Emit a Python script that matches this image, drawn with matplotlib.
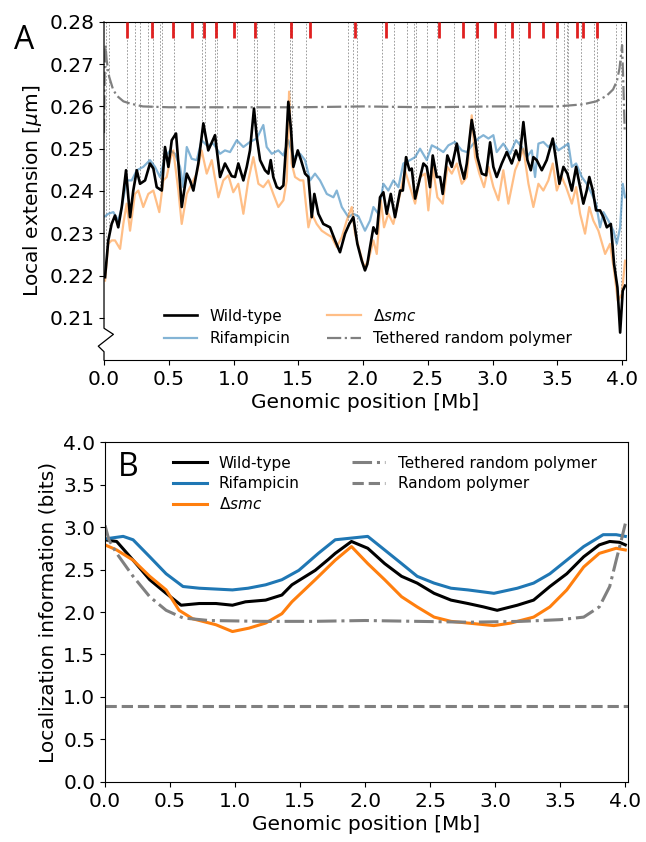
import numpy as np
import matplotlib
matplotlib.use("Agg")
import matplotlib.pyplot as plt

# ---- panel A: local extension (um) along the genome (Mb) ----
wt_x = [0.008, 0.033, 0.059, 0.085, 0.110, 0.137, 0.170, 0.201, 0.226, 0.253,
        0.278, 0.317, 0.355, 0.381, 0.407, 0.446, 0.471, 0.497, 0.523, 0.556,
        0.587, 0.600, 0.639, 0.664, 0.690, 0.728, 0.767, 0.805, 0.857, 0.896,
        0.934, 0.986, 1.012, 1.037, 1.076, 1.102, 1.127, 1.158, 1.179, 1.205,
        1.243, 1.269, 1.287, 1.307, 1.334, 1.359, 1.385, 1.405, 1.423, 1.444,
        1.462, 1.496, 1.521, 1.552, 1.578, 1.604, 1.624, 1.655, 1.693, 1.745,
        1.784, 1.822, 1.861, 1.894, 1.925, 1.956, 1.990, 2.015, 2.033, 2.054,
        2.080, 2.106, 2.131, 2.157, 2.183, 2.214, 2.247, 2.286, 2.307, 2.332,
        2.358, 2.376, 2.402, 2.435, 2.466, 2.492, 2.517, 2.538, 2.569, 2.595,
        2.615, 2.651, 2.685, 2.724, 2.749, 2.780, 2.801, 2.839, 2.865, 2.883,
        2.917, 2.950, 2.981, 3.006, 3.032, 3.071, 3.110, 3.148, 3.181, 3.207,
        3.238, 3.269, 3.295, 3.315, 3.341, 3.380, 3.418, 3.465, 3.490, 3.516,
        3.547, 3.578, 3.612, 3.645, 3.676, 3.701, 3.727, 3.747, 3.774, 3.799,
        3.830, 3.856, 3.882, 3.913, 3.938, 3.964, 3.985, 4.005, 4.023]
wt_y = [0.2196, 0.2283, 0.2322, 0.2342, 0.2314, 0.2362, 0.2449, 0.2338, 0.2401, 0.2449,
        0.2417, 0.2425, 0.2465, 0.2453, 0.2409, 0.2401, 0.2504, 0.2457, 0.2520, 0.2536,
        0.2417, 0.2362, 0.2441, 0.2425, 0.2401, 0.2465, 0.2560, 0.2496, 0.2532, 0.2433,
        0.2465, 0.2435, 0.2433, 0.2465, 0.2425, 0.2457, 0.2496, 0.2595, 0.2528, 0.2473,
        0.2449, 0.2441, 0.2473, 0.2433, 0.2409, 0.2405, 0.2413, 0.2504, 0.2611, 0.2544,
        0.2457, 0.2496, 0.2473, 0.2441, 0.2433, 0.2338, 0.2393, 0.2346, 0.2322, 0.2314,
        0.2283, 0.2255, 0.2299, 0.2322, 0.2338, 0.2275, 0.2235, 0.2212, 0.2227, 0.2267,
        0.2314, 0.2299, 0.2385, 0.2397, 0.2346, 0.2393, 0.2338, 0.2401, 0.2401, 0.2480,
        0.2449, 0.2453, 0.2382, 0.2425, 0.2465, 0.2457, 0.2409, 0.2484, 0.2433, 0.2433,
        0.2393, 0.2484, 0.2457, 0.2512, 0.2465, 0.2429, 0.2465, 0.2568, 0.2524, 0.2480,
        0.2441, 0.2437, 0.2515, 0.2457, 0.2433, 0.2465, 0.2492, 0.2465, 0.2496, 0.2473,
        0.2563, 0.2473, 0.2449, 0.2480, 0.2473, 0.2449, 0.2473, 0.2524, 0.2473, 0.2417,
        0.2457, 0.2441, 0.2401, 0.2457, 0.2409, 0.2370, 0.2401, 0.2433, 0.2401, 0.2354,
        0.2354, 0.2338, 0.2314, 0.2322, 0.2227, 0.2172, 0.2065, 0.2164, 0.2176]

rif_x = [0.008, 0.033, 0.072, 0.110, 0.137, 0.175, 0.214, 0.253, 0.303, 0.355,
         0.394, 0.432, 0.471, 0.510, 0.548, 0.587, 0.612, 0.639, 0.677, 0.716,
         0.754, 0.793, 0.844, 0.896, 0.934, 0.973, 1.025, 1.076, 1.127, 1.179,
         1.230, 1.256, 1.295, 1.346, 1.385, 1.423, 1.462, 1.514, 1.552, 1.591,
         1.629, 1.668, 1.720, 1.771, 1.797, 1.836, 1.887, 1.925, 1.964, 2.015,
         2.054, 2.080, 2.118, 2.157, 2.195, 2.234, 2.273, 2.311, 2.363, 2.402,
         2.440, 2.492, 2.531, 2.581, 2.620, 2.659, 2.710, 2.762, 2.801, 2.852,
         2.890, 2.929, 2.968, 3.006, 3.032, 3.083, 3.135, 3.181, 3.226, 3.264,
         3.303, 3.328, 3.354, 3.392, 3.431, 3.470, 3.508, 3.547, 3.585, 3.612,
         3.645, 3.689, 3.727, 3.766, 3.799, 3.830, 3.856, 3.894, 3.933, 3.959,
         3.985, 4.005, 4.023]
rif_y = [0.2340, 0.2346, 0.2350, 0.2330, 0.2362, 0.2425, 0.2425, 0.2449, 0.2457, 0.2473,
         0.2457, 0.2433, 0.2480, 0.2496, 0.2488, 0.2457, 0.2409, 0.2504, 0.2476, 0.2473,
         0.2520, 0.2508, 0.2512, 0.2488, 0.2496, 0.2492, 0.2520, 0.2504, 0.2516, 0.2524,
         0.2556, 0.2504, 0.2488, 0.2496, 0.2484, 0.2520, 0.2480, 0.2488, 0.2473, 0.2425,
         0.2441, 0.2425, 0.2393, 0.2385, 0.2401, 0.2362, 0.2338, 0.2346, 0.2340, 0.2306,
         0.2330, 0.2362, 0.2346, 0.2417, 0.2401, 0.2425, 0.2409, 0.2465, 0.2473, 0.2480,
         0.2500, 0.2473, 0.2508, 0.2500, 0.2492, 0.2508, 0.2516, 0.2496, 0.2492, 0.2512,
         0.2524, 0.2532, 0.2524, 0.2532, 0.2492, 0.2512, 0.2488, 0.2520, 0.2504, 0.2480,
         0.2496, 0.2433, 0.2512, 0.2516, 0.2504, 0.2516, 0.2496, 0.2504, 0.2512, 0.2457,
         0.2465, 0.2433, 0.2417, 0.2393, 0.2370, 0.2314, 0.2350, 0.2330, 0.2306, 0.2275,
         0.2314, 0.2417, 0.2385]

smc_x = [0.008, 0.033, 0.059, 0.085, 0.124, 0.149, 0.175, 0.201, 0.239, 0.265,
         0.303, 0.342, 0.381, 0.427, 0.458, 0.484, 0.510, 0.535, 0.574, 0.600,
         0.639, 0.677, 0.716, 0.754, 0.793, 0.832, 0.883, 0.921, 0.960, 0.998,
         1.037, 1.076, 1.114, 1.153, 1.192, 1.230, 1.269, 1.307, 1.346, 1.385,
         1.411, 1.429, 1.449, 1.475, 1.514, 1.539, 1.578, 1.604, 1.642, 1.681,
         1.720, 1.758, 1.797, 1.836, 1.874, 1.913, 1.938, 1.977, 2.008, 2.041,
         2.080, 2.106, 2.137, 2.162, 2.195, 2.234, 2.286, 2.324, 2.363, 2.402,
         2.440, 2.479, 2.504, 2.538, 2.574, 2.615, 2.651, 2.685, 2.724, 2.762,
         2.801, 2.839, 2.865, 2.898, 2.934, 2.968, 3.006, 3.045, 3.083, 3.122,
         3.174, 3.207, 3.238, 3.277, 3.315, 3.354, 3.392, 3.431, 3.465, 3.496,
         3.534, 3.568, 3.612, 3.645, 3.676, 3.714, 3.747, 3.778, 3.817, 3.869,
         3.907, 3.938, 3.967, 3.998, 4.023]
smc_y = [0.2188, 0.2275, 0.2283, 0.2283, 0.2263, 0.2322, 0.2370, 0.2306, 0.2393, 0.2401,
         0.2362, 0.2393, 0.2401, 0.2350, 0.2425, 0.2433, 0.2473, 0.2496, 0.2401, 0.2322,
         0.2393, 0.2417, 0.2441, 0.2496, 0.2441, 0.2473, 0.2385, 0.2425, 0.2437, 0.2397,
         0.2417, 0.2346, 0.2425, 0.2480, 0.2417, 0.2409, 0.2425, 0.2393, 0.2362, 0.2378,
         0.2425, 0.2635, 0.2465, 0.2433, 0.2425, 0.2425, 0.2314, 0.2346, 0.2322, 0.2306,
         0.2298, 0.2291, 0.2267, 0.2291, 0.2330, 0.2362, 0.2299, 0.2255, 0.2220, 0.2235,
         0.2283, 0.2251, 0.2378, 0.2314, 0.2346, 0.2322, 0.2393, 0.2449, 0.2409, 0.2370,
         0.2433, 0.2441, 0.2354, 0.2457, 0.2385, 0.2370, 0.2457, 0.2441, 0.2465, 0.2417,
         0.2433, 0.2579, 0.2480, 0.2441, 0.2409, 0.2457, 0.2410, 0.2378, 0.2449, 0.2370,
         0.2449, 0.2473, 0.2500, 0.2417, 0.2362, 0.2417, 0.2401, 0.2425, 0.2465, 0.2401,
         0.2433, 0.2409, 0.2370, 0.2409, 0.2346, 0.2299, 0.2362, 0.2330, 0.2306, 0.2251,
         0.2275, 0.2212, 0.2140, 0.2156, 0.2235]

teth_a_x = [0.0, 0.006, 0.012, 0.02, 0.04, 0.07, 0.1, 0.15, 0.2, 0.3, 0.5, 1.0, 1.5,
            2.0, 2.5, 3.0, 3.5, 3.7, 3.8, 3.88, 3.93, 3.96, 3.98, 4.0, 4.01, 4.02]
teth_a_y = [0.2537, 0.270, 0.2745, 0.271, 0.267, 0.264, 0.2625, 0.2612, 0.2607, 0.2600,
            0.2598, 0.2598, 0.2598, 0.2600, 0.2598, 0.2600, 0.2600, 0.2605, 0.2612, 0.2625,
            0.2640, 0.2660, 0.2690, 0.2745, 0.2650, 0.2545]

# marked loci: red ticks on top, grey dotted guides down to the wild-type curve
red_x = [0.175, 0.37, 0.53, 0.68, 0.77, 0.865, 1.0, 1.165, 1.44, 1.59, 1.94, 2.175,
         2.585, 2.77, 2.88, 3.02, 3.15, 3.28, 3.39, 3.50, 3.65, 3.70, 3.81]
dot_x = [0.015, 0.04, 0.175, 0.24, 0.28, 0.34, 0.375, 0.43, 0.45, 0.54, 0.76, 0.78,
         0.86, 0.875, 1.03, 1.16, 1.18, 1.31, 1.435, 1.45, 1.56, 1.885, 1.92, 1.95,
         2.15, 2.24, 2.34, 2.39, 2.41, 2.49, 2.57, 2.70, 2.865, 2.89, 3.095, 3.155,
         3.205, 3.49, 3.55, 3.575, 3.585, 3.68, 3.78, 3.81, 3.955, 3.995]

# ---- panel B: localization information (bits) ----
b_wt_x = [0.0, 0.09, 0.216, 0.344, 0.47, 0.585, 0.725, 0.853, 0.98, 1.08, 1.235, 1.36,
          1.437, 1.616, 1.718, 1.77, 1.895, 2.02, 2.15, 2.28, 2.40, 2.53, 2.66, 2.79,
          2.91, 3.015, 3.17, 3.295, 3.42, 3.55, 3.68, 3.80, 3.88, 3.956, 4.0]
b_wt_y = [2.85, 2.83, 2.61, 2.38, 2.22, 2.08, 2.10, 2.10, 2.08, 2.12, 2.14, 2.20,
          2.32, 2.49, 2.62, 2.69, 2.83, 2.75, 2.57, 2.42, 2.34, 2.22, 2.14, 2.10,
          2.06, 2.02, 2.08, 2.14, 2.30, 2.45, 2.65, 2.79, 2.83, 2.82, 2.79]

b_rif_x = [0.0, 0.14, 0.216, 0.344, 0.47, 0.6, 0.725, 0.98, 1.1, 1.235, 1.36, 1.49,
           1.64, 1.77, 1.895, 2.02, 2.15, 2.28, 2.40, 2.53, 2.66, 2.79, 2.99, 3.17,
           3.295, 3.42, 3.55, 3.68, 3.83, 3.93, 4.0]
b_rif_y = [2.86, 2.89, 2.85, 2.65, 2.45, 2.30, 2.28, 2.26, 2.28, 2.32, 2.38, 2.49,
           2.69, 2.85, 2.87, 2.89, 2.73, 2.57, 2.42, 2.34, 2.28, 2.26, 2.22, 2.28,
           2.34, 2.45, 2.61, 2.77, 2.91, 2.91, 2.89]

b_smc_x = [0.0, 0.09, 0.216, 0.344, 0.47, 0.57, 0.675, 0.853, 0.98, 1.107, 1.235, 1.36,
           1.437, 1.616, 1.77, 1.895, 2.02, 2.15, 2.28, 2.40, 2.53, 2.66, 2.79, 2.99,
           3.12, 3.295, 3.42, 3.55, 3.68, 3.80, 3.93, 4.0]
b_smc_y = [2.79, 2.73, 2.61, 2.42, 2.26, 2.02, 1.92, 1.85, 1.77, 1.81, 1.87, 1.98,
           2.12, 2.38, 2.61, 2.77, 2.57, 2.38, 2.18, 2.06, 1.94, 1.89, 1.87, 1.84,
           1.87, 1.94, 2.06, 2.26, 2.53, 2.69, 2.75, 2.73]

b_teth_x = [0.0, 0.03, 0.09, 0.216, 0.344, 0.47, 0.6, 0.8, 1.2, 1.6, 2.0, 2.4, 2.8,
            3.2, 3.5, 3.68, 3.80, 3.88, 3.93, 3.97, 4.0]
b_teth_y = [3.02, 2.85, 2.69, 2.42, 2.18, 2.02, 1.93, 1.90, 1.89, 1.89, 1.90, 1.89,
            1.88, 1.89, 1.91, 1.94, 2.06, 2.30, 2.61, 2.85, 3.04]

rand_x = [0.0, 4.05]
rand_y = [0.89, 0.89]

fs = 14.5
fig = plt.figure(figsize=(6.46, 8.42), dpi=100)
axA = fig.add_axes([0.161, 0.5724, 0.808, 0.4016])
axB = fig.add_axes([0.1625, 0.0713, 0.8095, 0.4037])

# panel A
wt_at = np.interp(dot_x, wt_x, wt_y)
axA.vlines(dot_x, wt_at, 0.28, colors="#8c8c8c", linestyles=(0, (2, 2)), linewidth=0.6, zorder=1)
axA.vlines(red_x, 0.2761, 0.28, colors="#e02020", linewidth=2, zorder=5)
axA.plot(rif_x, rif_y, color="#1f77b4", alpha=0.55, lw=1.6, label="Rifampicin", zorder=2)
axA.plot(smc_x, smc_y, color="#ff7f0e", alpha=0.5, lw=1.6, label=r"$\Delta$$\it{smc}$", zorder=2)
axA.plot(teth_a_x, teth_a_y, color="grey", ls="-.", lw=1.6, label="Tethered random polymer", zorder=3)
axA.plot(wt_x, wt_y, color="black", lw=1.9, label="Wild-type", zorder=4)
axA.set_xlim(0, 4.03)
axA.set_ylim(0.2, 0.28)
axA.set_yticks([0.21, 0.22, 0.23, 0.24, 0.25, 0.26, 0.27, 0.28])
axA.set_xticks(np.arange(0, 4.01, 0.5))
axA.set_xticklabels([f"{v:.1f}" for v in np.arange(0, 4.01, 0.5)])
axA.tick_params(labelsize=fs)
axA.set_xlabel("Genomic position [Mb]", fontsize=fs, labelpad=3)
axA.set_ylabel(r"Local extension [$\mu$m]", fontsize=fs, labelpad=4)
# broken left axis
axA.spines["left"].set_visible(False)
axA.plot([0, 0, 0.018, -0.011, 0, 0], [1, 0.094, 0.076, 0.041, 0.0246, 0],
         transform=axA.transAxes, color="black", lw=0.9, clip_on=False, zorder=6)
h, l = axA.get_legend_handles_labels()
order = [3, 0, 1, 2]
axA.legend([h[i] for i in order], [l[i] for i in order], ncol=2, frameon=False,
           loc="lower center", bbox_to_anchor=(0.505, 0.0), fontsize=11,
           handlelength=2.2, columnspacing=2.4)
fig.text(0.022, 0.972, "A", fontsize=23, family="Open Sans", va="top")

# panel B
axB.plot(b_wt_x, b_wt_y, color="black", lw=2.2, label="Wild-type")
axB.plot(b_rif_x, b_rif_y, color="#1f77b4", lw=2.2, label="Rifampicin")
axB.plot(b_smc_x, b_smc_y, color="#ff7f0e", lw=2.2, label=r"$\Delta$$\it{smc}$")
axB.plot(b_teth_x, b_teth_y, color="grey", ls="-.", lw=2.2, label="Tethered random polymer")
axB.plot(rand_x, rand_y, color="grey", ls="--", lw=2.2, label="Random polymer")
axB.set_xlim(0, 4.02)
axB.set_ylim(0, 4.0)
axB.set_yticks(np.arange(0, 4.01, 0.5))
axB.set_xticks(np.arange(0, 4.01, 0.5))
axB.tick_params(labelsize=fs)
axB.set_xlabel("Genomic position [Mb]", fontsize=fs, labelpad=3)
axB.set_ylabel("Localization information (bits)", fontsize=fs, labelpad=4)
axB.legend(ncol=2, frameon=False, loc="upper center", bbox_to_anchor=(0.535, 1.0),
           fontsize=11, handlelength=2.2, columnspacing=3.4, labelspacing=0.35)
axB.text(0.025, 0.975, "B", transform=axB.transAxes, fontsize=23, family="Open Sans", va="top")

fig.savefig("out.png", dpi=100)
